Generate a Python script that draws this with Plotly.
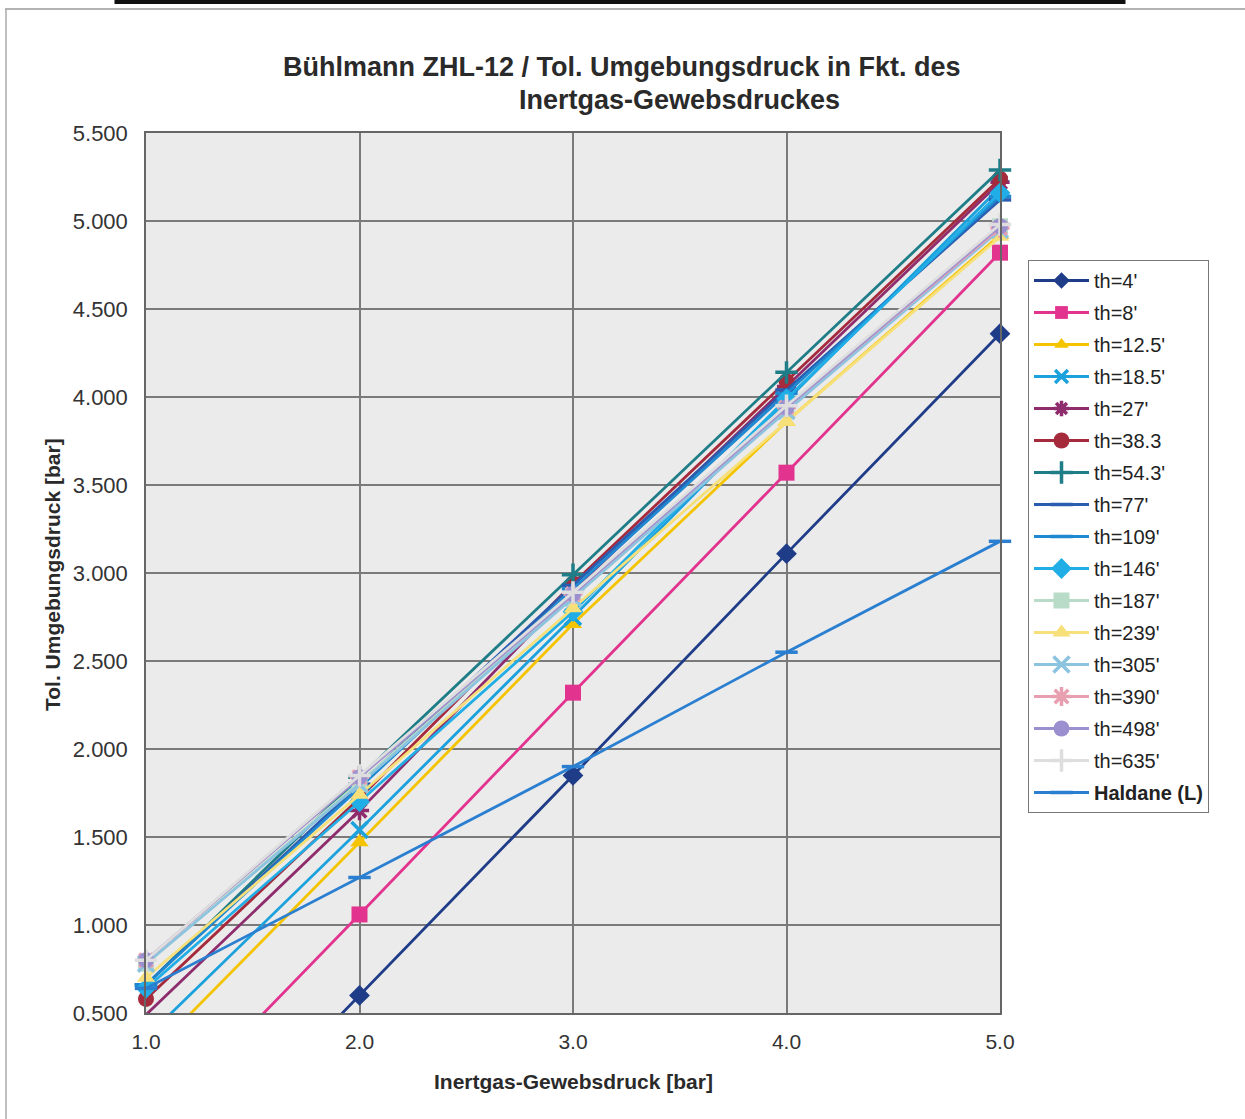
import plotly.graph_objects as go

x_vals = [1.0, 2.0, 3.0, 4.0, 5.0]

names = ["th=4'", "th=8'", "th=12.5'", "th=18.5'", "th=27'", "th=38.3", "th=54.3'",
         "th=77'", "th=109'", "th=146'", "th=187'", "th=239'", "th=305'", "th=390'",
         "th=498'", "th=635'", "<b>Haldane (L)</b>"]

th4 = [-0.65, 0.60, 1.85, 3.11, 4.36]
th8 = [-0.19, 1.06, 2.32, 3.57, 4.82]
th12_5 = [0.24, 1.47, 2.71, 3.86, 4.92]
th18_5 = [0.36, 1.54, 2.75, 3.98, 5.19]
th27 = [0.49, 1.65, 2.90, 4.06, 5.22]
th38_3 = [0.58, 1.72, 2.94, 4.09, 5.24]
th54_3 = [0.66, 1.84, 2.99, 4.14, 5.29]
th77 = [0.66, 1.80, 2.93, 4.04, 5.12]
th109 = [0.66, 1.78, 2.91, 4.02, 5.14]
th146 = [0.64, 1.70, 2.78, 3.99, 5.16]
th187 = [0.78, 1.81, 2.87, 3.93, 4.97]
th239 = [0.70, 1.74, 2.80, 3.86, 4.91]
th305 = [0.78, 1.80, 2.86, 3.92, 4.95]
th390 = [0.80, 1.84, 2.88, 3.94, 4.96]
th498 = [0.80, 1.84, 2.88, 3.94, 4.97]
th635 = [0.80, 1.85, 2.89, 3.95, 4.98]
haldane = [0.64, 1.27, 1.90, 2.55, 3.18]

series = [th4, th8, th12_5, th18_5, th27, th38_3, th54_3, th77, th109, th146,
          th187, th239, th305, th390, th498, th635, haldane]

colors = ["#1f3c88", "#e2338f", "#f5c400", "#1ba1dc", "#8e2c6e", "#a52a3c", "#1e7d87",
          "#2a5db0", "#1e88d0", "#21aee6", "#b8dcc8", "#f7e07a", "#8cc4e0", "#e8a0b0",
          "#9b8fd0", "#dedede", "#2a7fd0"]
symbols = ["diamond", "square", "triangle-up", "x-thin-open", "asterisk-open", "circle",
           "cross-thin-open", "line-ew-open", "line-ew-open", "diamond", "square",
           "triangle-up", "x-thin-open", "asterisk-open", "circle", "cross-thin-open",
           "line-ew-open"]
open_sym = {"x-thin-open", "asterisk-open", "cross-thin-open", "line-ew-open"}

Y_MIN, Y_MAX = 0.5, 5.5

fig = go.Figure()
for i, (name, ys, col, sym) in enumerate(zip(names, series, colors, symbols)):
    sizes = [16 if y >= Y_MIN else 0 for y in ys]
    if sym in open_sym:
        marker = dict(symbol=sym, size=sizes, color=col, opacity=1,
                      line=dict(color=col, width=3.5))
    else:
        marker = dict(symbol=sym, size=sizes, color=col, opacity=1, line=dict(width=0))
    fig.add_trace(go.Scatter(x=x_vals, y=ys, name=name, mode="lines+markers",
                             legendgroup=f"g{i}",
                             line=dict(color=col, width=2.8), marker=marker,
                             cliponaxis=False))

W, H = 1245, 1119
L, R, T, B = 146, 1000, 133, 1013  # plot area in page pixels


def px(xp):
    return (xp - L) / (R - L)


def py(yp):
    return (B - yp) / (B - T)


fig.update_layout(
    width=W, height=H,
    margin=dict(l=L, r=W - R, t=T, b=H - B),
    paper_bgcolor="white",
    plot_bgcolor="#ebebeb",
    font=dict(family="Liberation Sans, Arial, sans-serif", color="#222"),
    showlegend=True,
    legend=dict(x=px(1028), y=py(260), xanchor="left", yanchor="top",
                bgcolor="white", bordercolor="#777", borderwidth=1,
                font=dict(size=20, color="#222"), itemwidth=55,
                tracegroupgap=3),
    xaxis=dict(range=[1.0, 5.0], dtick=1.0, tick0=1.0, tickformat=".1f",
               showgrid=True, gridcolor="#7a7a7a", gridwidth=1.5,
               showline=True, linecolor="#666", linewidth=1.5, mirror=True,
               ticks="", tickfont=dict(size=21, color="#333"), zeroline=False,
               ticklabelstandoff=9),
    yaxis=dict(range=[Y_MIN, Y_MAX], dtick=0.5, tick0=0.5, tickformat=".3f",
               showgrid=True, gridcolor="#7a7a7a", gridwidth=1.5,
               showline=True, linecolor="#666", linewidth=1.5, mirror=True,
               ticks="", tickfont=dict(size=22, color="#333"), zeroline=False,
               ticklabelstandoff=12),
)

fig.add_annotation(text="<b>Bühlmann ZHL-12 / Tol. Umgebungsdruck in Fkt. des</b>",
                   x=px(622), y=py(67), xref="paper", yref="paper", showarrow=False,
                   font=dict(size=27, color="#2a2a2a"), xanchor="center", yanchor="middle")
fig.add_annotation(text="<b>Inertgas-Gewebsdruckes</b>",
                   x=px(679), y=py(100), xref="paper", yref="paper", showarrow=False,
                   font=dict(size=27, color="#2a2a2a"), xanchor="center", yanchor="middle")
fig.add_annotation(text="<b>Tol. Umgebungsdruck [bar]</b>",
                   x=px(52), y=py(575), xref="paper", yref="paper", showarrow=False,
                   textangle=-90, font=dict(size=21, color="#2a2a2a"),
                   xanchor="center", yanchor="middle")
fig.add_annotation(text="<b>Inertgas-Gewebsdruck [bar]</b>",
                   x=px(573), y=py(1081), xref="paper", yref="paper", showarrow=False,
                   font=dict(size=21, color="#2a2a2a"), xanchor="center", yanchor="middle")

# outer frame and table remnant at top
fig.add_shape(type="line", xref="paper", yref="paper", x0=px(5), x1=px(1250),
              y0=py(9), y1=py(9), line=dict(color="#999", width=1.5))
fig.add_shape(type="line", xref="paper", yref="paper", x0=px(6), x1=px(6),
              y0=py(9), y1=py(1125), line=dict(color="#aaa", width=1.5))
fig.add_shape(type="line", xref="paper", yref="paper", x0=px(115), x1=px(1125),
              y0=py(2), y1=py(2), line=dict(color="#111", width=4))
fig.add_shape(type="line", xref="paper", yref="paper", x0=px(116), x1=px(116),
              y0=py(0), y1=py(4), line=dict(color="#111", width=3))
fig.add_shape(type="line", xref="paper", yref="paper", x0=px(1124), x1=px(1124),
              y0=py(0), y1=py(4), line=dict(color="#111", width=3))

fig.write_html("out.html", config={"displayModeBar": False},
               post_script="document.body.style.margin='0';document.body.style.padding='0';")
